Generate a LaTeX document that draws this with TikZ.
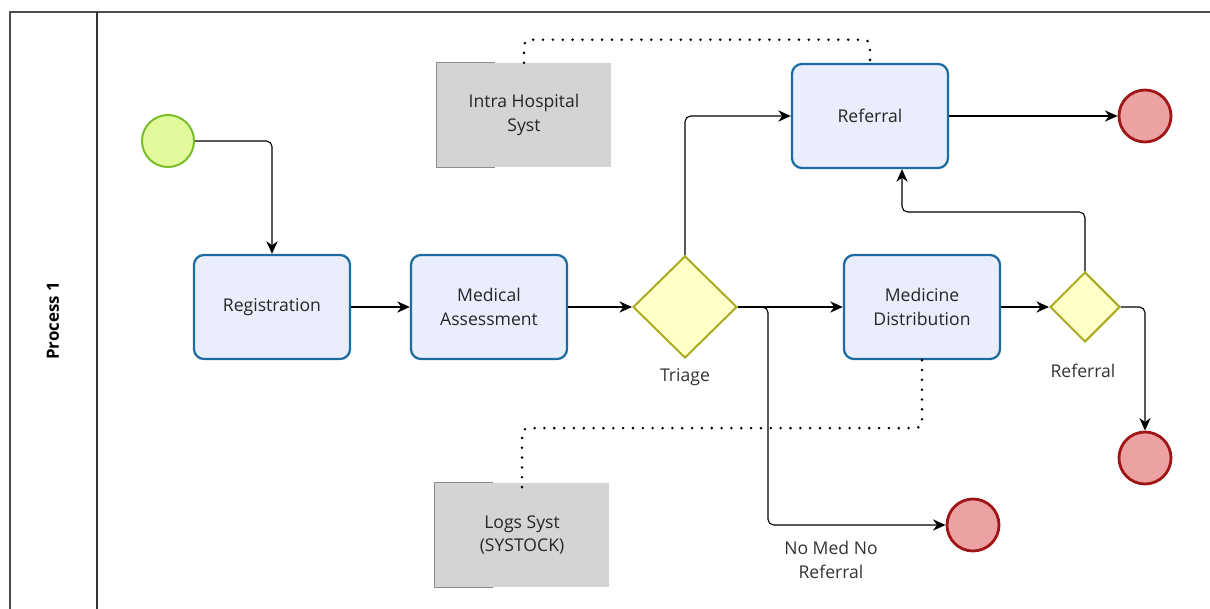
\documentclass[tikz,border=0pt]{standalone}
\usepackage{fontspec}
\setmainfont{Open Sans}
\usetikzlibrary{arrows.meta,shapes.geometric}
\definecolor{taskfill}{RGB}{234,238,252}
\definecolor{taskline}{RGB}{28,108,160}
\definecolor{gatefill}{RGB}{255,255,200}
\definecolor{gateline}{RGB}{170,170,30}
\definecolor{startfill}{RGB}{226,250,156}
\definecolor{startline}{RGB}{120,188,40}
\definecolor{endfill}{RGB}{236,162,162}
\definecolor{endline}{RGB}{160,22,22}
\definecolor{datafill}{RGB}{212,212,212}
\definecolor{dataline}{RGB}{140,140,140}

\begin{document}
\begin{tikzpicture}[x=0.025cm,y=-0.025cm,font=\fontsize{12.5}{17}\selectfont,
  task/.style={draw=taskline,fill=taskfill,line width=1.6pt,rounded corners=0.25cm,
    minimum width=3.9cm,minimum height=2.6cm,align=center,text=black!85},
  gate/.style={diamond,draw=gateline,fill=gatefill,line width=1.4pt,inner sep=0pt},
  startev/.style={circle,draw=startline,fill=startfill,line width=1.4pt,minimum size=1.3cm},
  endev/.style={circle,draw=endline,fill=endfill,line width=2pt,minimum size=1.3cm},
  datasys/.style={fill=datafill,minimum width=4.35cm,minimum height=2.6cm,align=center,text=black!85},
  flow/.style={-{Stealth[length=9pt,width=8pt]},line width=0.8pt,rounded corners=4pt},
  assoc/.style={line width=2pt,line cap=round,dash pattern=on 0pt off 7pt,rounded corners=4pt},
  lbl/.style={align=center,text=black!80}]
\useasboundingbox (0,0) rectangle (1210,609);
% pool and lane
\draw[black!70,line width=1pt] (1210,12) -- (10,12) -- (10,609);
\draw[black!80,line width=1pt] (97,12) -- (97,609);
\node[rotate=90,font=\fontsize{12}{14}\selectfont\bfseries] (lane) at (53,321) {Process 1};

% events and tasks
\node[startev] (start) at (168,141) {};
\node[task] (reg) at (272,307) {Registration};
\node[task] (assess) at (489,307) {Medical\\Assessment};
\node[gate,minimum width=2.6cm,minimum height=2.55cm] (triage) at (685,307) {};
\node[lbl,below] (triagelbl) at (685,364) {Triage};
\node[task] (meddist) at (922,307) {Medicine\\Distribution};
\node[gate,minimum width=1.75cm,minimum height=1.75cm] (refgw) at (1085,307) {};
\node[lbl,below] (refgwlbl) at (1083,359) {Referral};
\node[task] (refbox) at (870,116) {Referral};
\node[endev] (enda) at (1145,116) {};
\node[endev] (endb) at (1145,458) {};
\node[endev] (endc) at (973,525) {};
\node[lbl] (nomed) at (831,560) {No Med No\\Referral};

% systems
\node[datasys] (intra) at (524,115) {Intra Hospital\\Syst};
\node[datasys] (logs) at (522,535) {Logs Syst\\(SYSTOCK)};
\draw[dataline,line width=1pt] ([xshift=1.45cm]intra.north west) -- (intra.north west)
  -- (intra.south west) -- ([xshift=1.45cm]intra.south west);
\draw[dataline,line width=1pt] ([xshift=1.45cm]logs.north west) -- (logs.north west)
  -- (logs.south west) -- ([xshift=1.45cm]logs.south west);

% sequence flows
\draw[flow] (start.east) -| (reg.north);
\draw[flow] (reg.east) -- (assess.west);
\draw[flow] (assess.east) -- (triage.west);
\draw[flow] (triage.east) -- (meddist.west);
\draw[flow] (triage.north) |- (refbox.west);
\draw[flow] (triage.east) -- ++(30,0) |- (endc.west);
\draw[flow] (meddist.east) -- (refgw.west);
\draw[flow] (refgw.north) -- ++(0,-59) -| ([xshift=0.8cm]refbox.south);
\draw[flow] (refgw.east) -| (endb.north);
\draw[flow] (refbox.east) -- (enda.west);

% associations
\draw[assoc] (intra.north) -- ++(0,-23) -| (refbox.north);
\draw[assoc] (meddist.south) -- ++(0,68) -| ([yshift=-0.3cm]logs.north);
\end{tikzpicture}
\end{document}
